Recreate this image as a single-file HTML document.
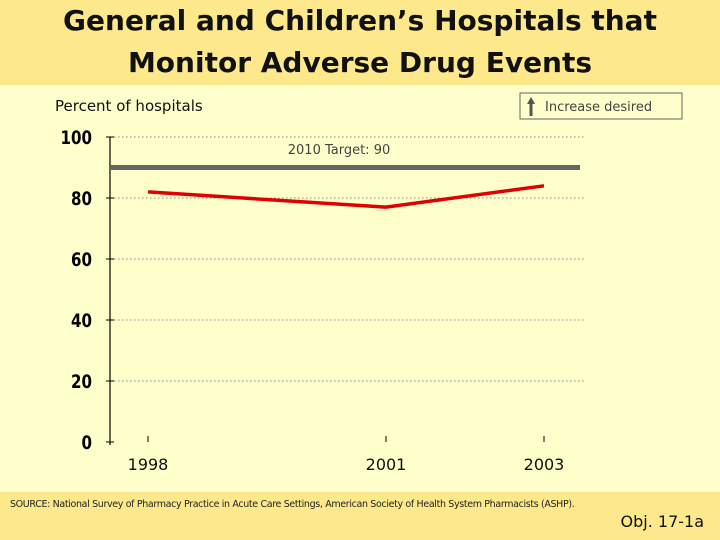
<!DOCTYPE html>
<html><head><meta charset="utf-8"><style>
body{margin:0;width:720px;height:540px;background:#ffffcc;position:relative;overflow:hidden;font-family:"DejaVu Sans","Liberation Sans",sans-serif}
.t{position:absolute;left:0;top:0;width:720px;height:85px;background:#fde98c;text-align:center;font:bold 28px/42px "DejaVu Sans",sans-serif;color:#111}
.b{position:absolute;left:0;top:492px;width:720px;height:48px;background:#fde98c}
</style></head><body>
<div class="t">General and Children’s Hospitals that<br>Monitor Adverse Drug Events</div>
<div class="b">
<div style="position:absolute;left:10px;top:7px;font-size:9.5px;color:#222;letter-spacing:-0.35px">SOURCE: National Survey of Pharmacy Practice in Acute Care Settings, American Society of Health System Pharmacists (ASHP).</div>
<div style="position:absolute;right:16px;top:20px;font-size:16px;color:#111">Obj. 17-1a</div>
</div>
<svg width="720" height="540" style="position:absolute;left:0;top:0" id="c">
<text x="55" y="111" font-size="15" fill="#111">Percent of hospitals</text>
<rect x="520" y="93" width="162" height="26" fill="none" stroke="#666"/>
<path d="M531 97 L527 104 L529.5 104 L529.5 116 L532.5 116 L532.5 104 L535 104 Z" fill="#555"/>
<text x="545" y="111" font-size="13" fill="#444">Increase desired</text>
<g id="g"></g>
</svg>
<script>
const years=["1998","2001","2003"];
const values=[82,77,84];
const yTicks=[0,20,40,60,80,100];
const target=90;
const xPos={"1998":148,"2001":386,"2003":544};
const y=v=>442-v*3.05;
const ns="http://www.w3.org/2000/svg",g=document.getElementById('g');
function mk(t,a,txt){const e=document.createElementNS(ns,t);for(const k in a)e.setAttribute(k,a[k]);if(txt!=null)e.textContent=txt;g.appendChild(e);return e;}
let e=mk('line',{x1:110,y1:y(100),x2:110,y2:y(0)+3,stroke:'#000','stroke-width':1.2});

yTicks.forEach(t=>{
 if(t>0){e=mk('line',{x1:110,x2:585,y1:y(t),y2:y(t),stroke:'#888','stroke-dasharray':'1.5,2.5'});
 }
 e=mk('line',{x1:106,x2:114,y1:y(t),y2:y(t),stroke:'#000'});
 
 e=mk('text',{x:92,y:y(t)+7,'text-anchor':'end','font-size':19,'font-weight':'bold',fill:'#000',textLength:(String(t).length*10.5),lengthAdjust:'spacingAndGlyphs'},t);
 
});
years.forEach(yr=>{
 e=mk('line',{x1:xPos[yr],x2:xPos[yr],y1:436,y2:442,stroke:'#000'});
 
 e=mk('text',{x:xPos[yr],y:470,'text-anchor':'middle','font-size':16,fill:'#111'},yr);
 
});
e=mk('line',{x1:110,x2:580,y1:y(target),y2:y(target),stroke:'#666','stroke-width':5});

e=mk('text',{x:339,y:154,'text-anchor':'middle','font-size':13,fill:'#444'},'2010 Target: '+target);

e=mk('polyline',{points:years.map((yr,i)=>xPos[yr]+','+y(values[i])).join(' '),fill:'none',stroke:'#e00000','stroke-width':3.5});

</script>
</body></html>
